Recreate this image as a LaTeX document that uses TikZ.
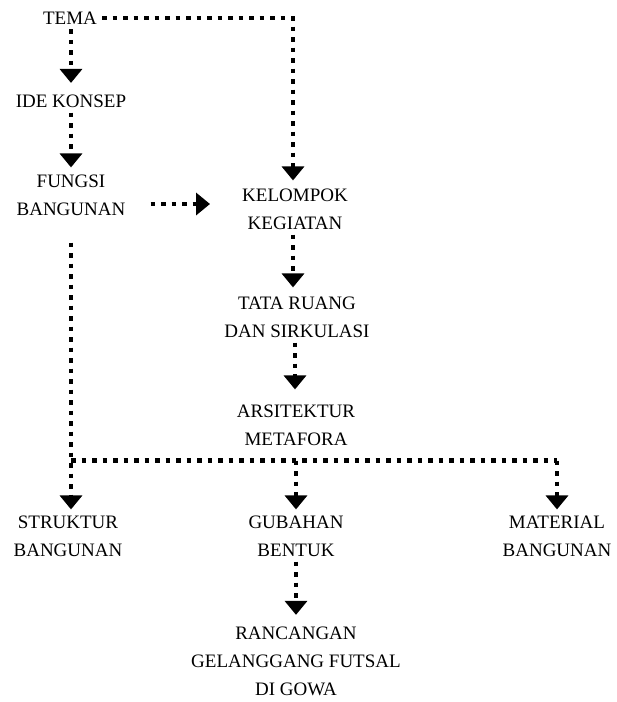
\documentclass[tikz,border=0pt]{standalone}
\usepackage{fontspec}
\setmainfont{Liberation Serif}
\usetikzlibrary{arrows.meta,positioning,calc}

\begin{document}
\begin{tikzpicture}[> = {Triangle[width=22pt,length=14pt]}, x=1pt, y=-1pt]
  % Gaya untuk teks dan panah
  \tikzstyle{teks}=[align=center, inner sep=5pt, font=\fontsize{19}{28}\selectfont]
  \tikzstyle{garis}=[line width=4.5pt, dash pattern=on 4.5pt off 6pt]
  \tikzstyle{alur}=[garis, ->]

  \useasboundingbox (0,0) rectangle (617,702);

  % Node
  \node[teks] (tema) at (70,18) {TEMA};
  \node[teks] (ide) at (71,101) {IDE KONSEP};
  \node[teks] (fungsi) at (71,195) {FUNGSI\\BANGUNAN};
  \node[teks] (kelompok) at (295,209) {KELOMPOK\\KEGIATAN};
  \node[teks] (tata) at (297,317) {TATA RUANG\\DAN SIRKULASI};
  \node[teks] (arsi) at (296,425) {ARSITEKTUR\\METAFORA};
  \node[teks] (struktur) at (68,536) {STRUKTUR\\BANGUNAN};
  \node[teks] (gubahan) at (296,536) {GUBAHAN\\BENTUK};
  \node[teks] (material) at (557,536) {MATERIAL\\BANGUNAN};
  \node[teks] (rancangan) at (296,661) {RANCANGAN\\GELANGGANG FUTSAL\\DI GOWA};
  \coordinate (bus) at ([yshift=-10pt]arsi.south);

  % Panah
  \draw[alur, shorten >=6.5pt] (tema.south -| ide.north) -- (ide.north);
  \draw[alur, shorten >=2pt] (ide.south) -- (fungsi.north);
  \draw[alur, shorten >=3pt] (tema.east) -| ([xshift=-2pt]kelompok.north);
  \draw[alur, shorten <=20pt, shorten >=27pt] ([yshift=-9pt]fungsi.east) -- ([yshift=-9pt]fungsi.east -| kelompok.west);
  \draw[alur, shorten >=4pt] ([xshift=-2pt]kelompok.south) -- ([xshift=-2pt]kelompok.south |- tata.north);
  \draw[alur, shorten >=10pt] ([xshift=-2pt]tata.south) -- ([xshift=-2pt]tata.south |- arsi.north);
  \draw[alur, shorten <=22pt, shorten >=1pt] (fungsi.south) -- (fungsi.south |- struktur.north);
  \draw[garis] (bus -| fungsi.south) -- (bus -| material.north);
  \draw[alur, shorten >=1pt] (bus) -- (gubahan.north);
  \draw[alur, shorten >=1pt] (bus -| material.north) -- (material.north);
  \draw[alur, shorten >=6.5pt] (gubahan.south) -- (rancangan.north);
\end{tikzpicture}
\end{document}
